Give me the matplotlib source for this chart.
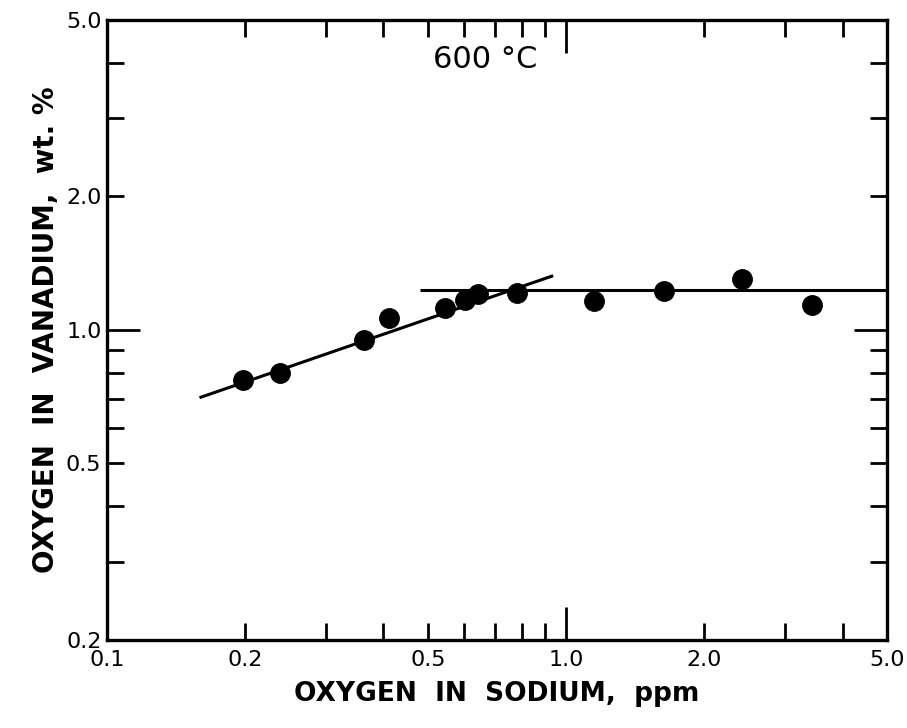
#!/usr/bin/env python3
"""Oxygen in vanadium vs oxygen in sodium at 600 C (log-log)."""

import matplotlib
matplotlib.use("Agg")
import matplotlib.pyplot as plt
from matplotlib.ticker import FixedLocator, FuncFormatter

o_sodium_ppm = [0.198, 0.238, 0.363, 0.411, 0.545, 0.603, 0.643, 0.782,
                1.151, 1.635, 2.417, 3.43]
o_vanadium_wt = [0.771, 0.800, 0.948, 1.065, 1.121, 1.169, 1.206, 1.212,
                 1.163, 1.224, 1.303, 1.139]

# hand-drawn fit lines
slope_x = [0.159, 0.937]
slope_y = [0.703, 1.324]
flat_x = [0.48, 5.0]
flat_y = [1.23, 1.23]

x_labelled = [0.1, 0.2, 0.5, 1.0, 2.0, 5.0]
x_minor = [0.2, 0.3, 0.4, 0.5, 0.6, 0.7, 0.8, 0.9, 2.0, 3.0, 4.0]
y_labelled = [0.2, 0.5, 1.0, 2.0, 5.0]
y_minor = [0.3, 0.4, 0.5, 0.6, 0.7, 0.8, 0.9, 2.0, 3.0, 4.0]

plt.rcParams["font.family"] = ["DejaVu Sans"]

fig = plt.figure(figsize=(9.07, 7.28), dpi=100)
ax = fig.add_axes([0.118, 0.121, 0.860, 0.852])

ax.plot(slope_x, slope_y, color="black", lw=2.2, solid_capstyle="butt")
ax.plot(flat_x, flat_y, color="black", lw=2.2, solid_capstyle="butt")
ax.plot(o_sodium_ppm, o_vanadium_wt, "o", color="black", ms=14, zorder=3)

ax.set_xscale("log")
ax.set_yscale("log")
ax.set_xlim(0.1, 5.0)
ax.set_ylim(0.2, 5.0)


def fmt_x(v, pos):
    for t in x_labelled:
        if abs(v - t) < 1e-6:
            return f"{t:.1f}"
    return ""


def fmt_y(v, pos):
    for t in y_labelled:
        if abs(v - t) < 1e-6:
            return f"{t:.1f}"
    return ""


# 1.0 gets the long tick, everything else a short one
ax.xaxis.set_major_locator(FixedLocator([1.0]))
ax.xaxis.set_minor_locator(FixedLocator([0.1] + x_minor + [5.0]))
ax.yaxis.set_major_locator(FixedLocator([1.0]))
ax.yaxis.set_minor_locator(FixedLocator(y_minor + [0.2, 5.0]))
ax.xaxis.set_major_formatter(FuncFormatter(fmt_x))
ax.xaxis.set_minor_formatter(FuncFormatter(fmt_x))
ax.yaxis.set_major_formatter(FuncFormatter(fmt_y))
ax.yaxis.set_minor_formatter(FuncFormatter(fmt_y))

ax.tick_params(which="both", direction="in", top=True, right=True,
               width=2.0, labelsize=16, colors="black")
ax.tick_params(which="major", length=24)
ax.tick_params(which="minor", length=12)
ax.tick_params(axis="x", which="both", pad=7)
ax.tick_params(axis="y", which="both", pad=4)

for s in ax.spines.values():
    s.set_linewidth(2.4)

ax.set_xlabel("OXYGEN  IN  SODIUM,  ppm", fontsize=19, fontweight="bold",
              labelpad=8)
ax.set_ylabel("OXYGEN  IN  VANADIUM,  wt. %", fontsize=20, fontweight="bold",
              labelpad=4)
ax.text(0.485, 0.935, "600 °C", transform=ax.transAxes, fontsize=22,
        ha="center", va="center")

fig.savefig("out.png", dpi=100)
